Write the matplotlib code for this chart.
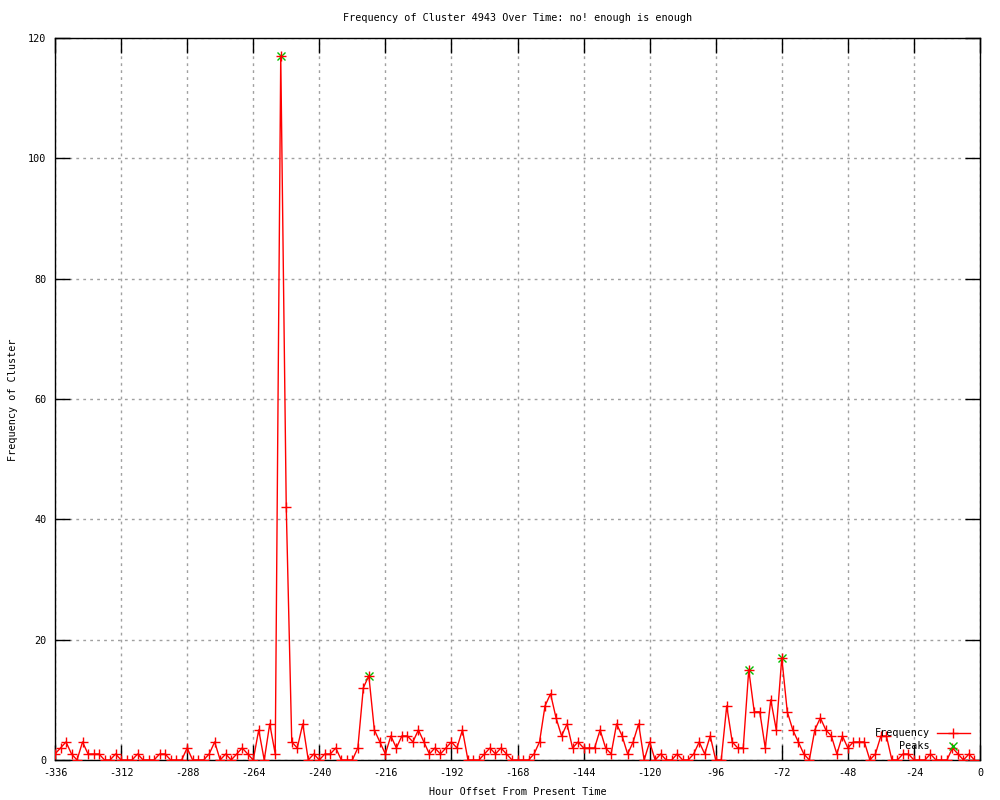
import numpy as np
import matplotlib
matplotlib.use('Agg')
import matplotlib.pyplot as plt
from matplotlib.lines import Line2D

plt.rcParams['font.family'] = ['DejaVu Sans Mono']
plt.rcParams['font.size'] = 7.3
plt.rcParams['axes.unicode_minus'] = False

# hour offsets, one point every 2 hours
hours = np.arange(-336, 0, 2)

freq = [1, 2, 3, 1, 0, 3, 1, 1, 1, 0, 0, 1,
        0, 0, 0, 1, 0, 0, 0, 1, 1, 0, 0, 0,
        2, 0, 0, 0, 1, 3, 0, 1, 0, 1, 2, 1,
        0, 5, 0, 6, 1, 117, 42, 3, 2, 6, 0, 1,
        0, 1, 1, 2, 0, 0, 0, 2, 12, 14, 5, 3,
        1, 4, 2, 4, 4, 3, 5, 3, 1, 2, 1, 2,
        3, 2, 5, 0, 0, 0, 1, 2, 1, 2, 1, 0,
        0, 0, 0, 1, 3, 9, 11, 7, 4, 6, 2, 3,
        2, 2, 2, 5, 2, 1, 6, 4, 1, 3, 6, 0,
        3, 0, 1, 0, 0, 1, 0, 0, 1, 3, 1, 4,
        0, 0, 9, 3, 2, 2, 15, 8, 8, 2, 10, 5,
        17, 8, 5, 3, 1, 0, 5, 7, 5, 4, 1, 4,
        2, 3, 3, 3, 0, 1, 4, 4, 0, 0, 1, 1,
        0, 0, 0, 1, 0, 0, 0, 2, 1, 0, 1, 0]

peak_hours = [-254, -222, -84, -72]
peak_vals = [117, 14, 15, 17]

xticks = list(range(-336, 1, 24))
yticks = list(range(0, 121, 20))

fig = plt.figure(figsize=(10, 8), dpi=100)
ax = fig.add_axes([0.055, 0.05, 0.925, 0.9025])

ax.plot(peak_hours, peak_vals, ls='none', marker='x', color='#00c000',
        markersize=6, markeredgewidth=1.0, zorder=2)
ax.plot(hours, freq, color='red', lw=1.0, marker='+', markersize=6.5,
        markeredgewidth=1.0, zorder=3)

ax.set_xlim(-336, 0)
ax.set_ylim(0, 120)
ax.set_xticks(xticks)
ax.set_yticks(yticks)
ax.tick_params(direction='in', length=11, width=1, top=True, right=True,
               labelsize=7.3, pad=6)
ax.grid(True, ls=(0, (2, 3)), color='#a0a0a0', lw=1)
for s in ax.spines.values():
    s.set_linewidth(1)
    s.set_color('black')

fig.text(0.5175, 0.9775, 'Frequency of Cluster 4943 Over Time: no! enough is enough',
         ha='center', va='center')
fig.text(0.5175, 0.01, 'Hour Offset From Present Time', ha='center', va='center')
fig.text(0.013, 0.5, 'Frequency of Cluster', rotation=90, ha='center', va='center')

# gnuplot-style key: text right-aligned, sample on the right
tr = ax.transAxes
ax.text(0.946, 0.0374, 'Frequency', transform=tr, ha='right', va='center')
ax.text(0.946, 0.0194, 'Peaks', transform=tr, ha='right', va='center')
ax.add_line(Line2D([0.9535, 0.989], [0.0374, 0.0374], transform=tr, color='red', lw=1.0,
                   clip_on=False, zorder=5))
ax.add_line(Line2D([0.9708], [0.0374], transform=tr, color='red', marker='+', markersize=6.5,
                   markeredgewidth=1.0, ls='none', clip_on=False, zorder=5))
ax.add_line(Line2D([0.9708], [0.0194], transform=tr, color='#00c000', marker='x', markersize=6,
                   markeredgewidth=1.0, ls='none', clip_on=False, zorder=5))

fig.savefig('out.png', dpi=100)
